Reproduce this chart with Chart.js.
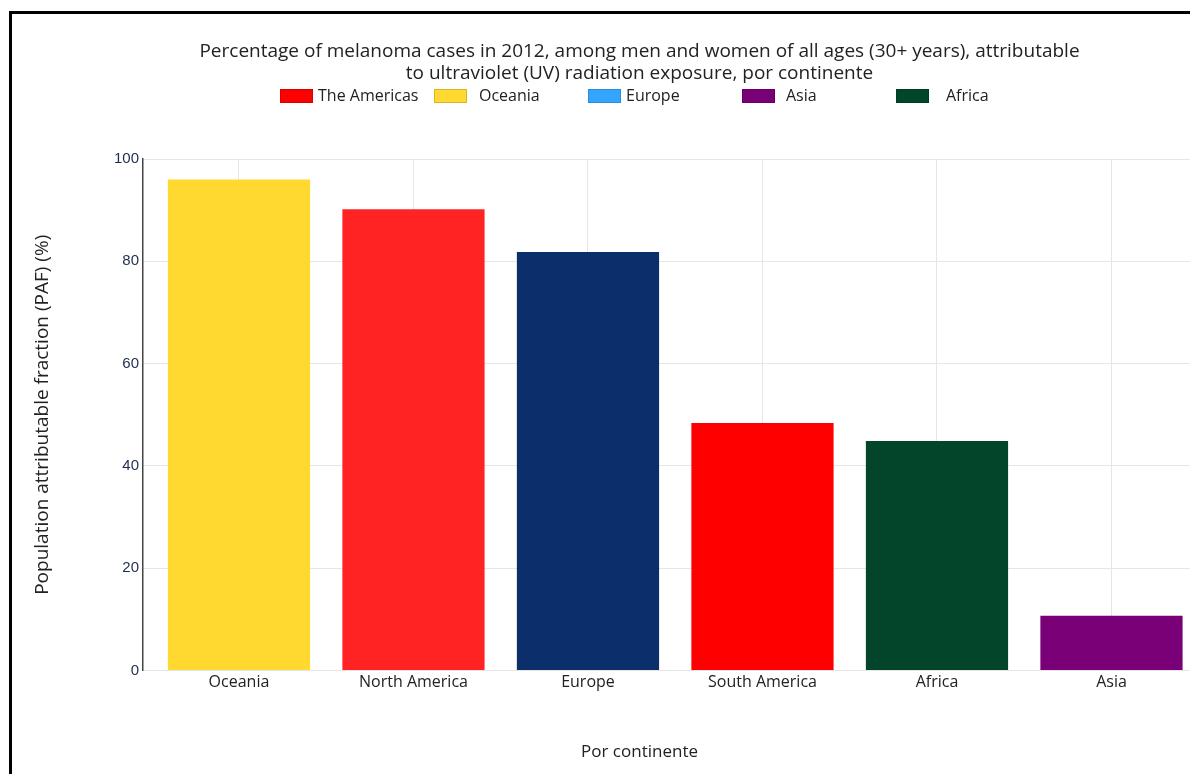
<!DOCTYPE html>
<html>
<head>
<meta charset="utf-8">
<script src="https://cdn.jsdelivr.net/npm/chart.js@4"></script>
<style>
  html, body { margin: 0; padding: 0; overflow: hidden; background: #fff; }
  #frame { position: absolute; left: 9px; top: 11px; width: 1300px; height: 820px; border: 3px solid #000; }
  #wrap { position: absolute; left: 0; top: 0; width: 1279px; height: 774px; }
</style>
</head>
<body>
<div id="frame"></div>
<div id="wrap"><canvas id="chart"></canvas></div>
<script>
const categories = ['Oceania', 'North America', 'Europe', 'South America', 'Africa', 'Asia'];
const values = [96, 90.2, 81.8, 48.4, 44.9, 10.7];
const barColors = ['#FFD92F', '#FF2323', '#0A2F6B', '#FF0000', '#03452B', '#7A0077'];
const yTicks = [0, 20, 40, 60, 80, 100];

const legendLabels = ['The Americas', 'Oceania', 'Europe', 'Asia', 'Africa'];
const legendColors = ['#FF0000', '#FFD92F', '#33A5FF', '#7A0077', '#03452B'];

const titleLines = [
    'Percentage of melanoma cases in 2012, among men and women of all ages (30+ years), attributable',
    'to ultraviolet (UV) radiation exposure, por continente'
];

const textFont = '"Open Sans", "Noto Sans", sans-serif';

// legend is drawn by hand, plotly style fixed slots
const legendBoxX = [280, 434, 588, 742, 896];
const legendTextX = [318, 479, 626, 786, 946];

const handLegend = {
    id: 'handLegend',
    afterDraw(chart) {
        const ctx = chart.ctx;
        ctx.save();
        ctx.font = '16px ' + textFont;
        ctx.textBaseline = 'middle';
        ctx.textAlign = 'left';
        legendLabels.forEach((label, i) => {
            ctx.fillStyle = legendColors[i];
            ctx.fillRect(legendBoxX[i], 89, 33, 14);
            ctx.strokeStyle = 'rgba(0,0,0,0.15)';
            ctx.lineWidth = 1;
            ctx.strokeRect(legendBoxX[i] + 0.5, 89.5, 32, 13);
            ctx.fillStyle = '#222';
            ctx.fillText(label, legendTextX[i], 96);
        });
        ctx.restore();
    }
};

const barData = categories.map((c, i) => ({x: i, y: values[i]}));

new Chart(document.getElementById('chart'), {
    type: 'bar',
    data: {
        datasets: [{
            label: 'PAF',
            data: barData,
            backgroundColor: barColors,
            borderWidth: 0,
            barPercentage: 0.815,
            categoryPercentage: 1
        }]
    },
    options: {
        responsive: true,
        maintainAspectRatio: false,
        animation: false,
        layout: { padding: 0 },
        scales: {
            x: {
                type: 'linear',
                min: -0.55,
                max: 5.96,
                offset: false,
                afterFit(scale) { scale.height = 40; },
                grid: { color: '#e6e6e6', drawTicks: false, offset: false },
                border: { color: '#e6e6e6' },
                ticks: {
                    stepSize: 1,
                    includeBounds: false,
                    autoSkip: false,
                    maxRotation: 0,
                    padding: 2,
                    color: '#222',
                    font: { family: textFont, size: 16 },
                    callback: v => categories[v]
                }
            },
            y: {
                min: 0,
                max: 100,
                afterFit(scale) { scale.width = 143; },
                afterBuildTicks(scale) { scale.ticks = yTicks.map(v => ({value: v})); },
                grid: { color: '#e6e6e6', drawTicks: false },
                border: { color: '#444', width: 1.5 },
                ticks: {
                    padding: 4,
                    color: '#1f2c4c',
                    font: { family: '"Liberation Sans", Arial, sans-serif', size: 15 }
                },
                title: {
                    display: true,
                    text: 'Population attributable fraction (PAF) (%)',
                    color: '#222',
                    font: { family: textFont, size: 19 },
                    padding: { top: 31, bottom: 0 }
                }
            }
        },
        plugins: {
            legend: { display: false },
            tooltip: { enabled: false },
            title: {
                display: true,
                text: titleLines,
                color: '#222',
                font: { family: textFont, size: 19, weight: 'normal', lineHeight: '22px' },
                padding: { top: 41, bottom: 74 }
            },
            subtitle: {
                display: true,
                position: 'bottom',
                text: 'Por continente',
                color: '#222',
                font: { family: textFont, size: 17, weight: 'normal' },
                padding: { top: 31, bottom: 12 }
            }
        }
    },
    plugins: [handLegend]
});
</script>
</body>
</html>
